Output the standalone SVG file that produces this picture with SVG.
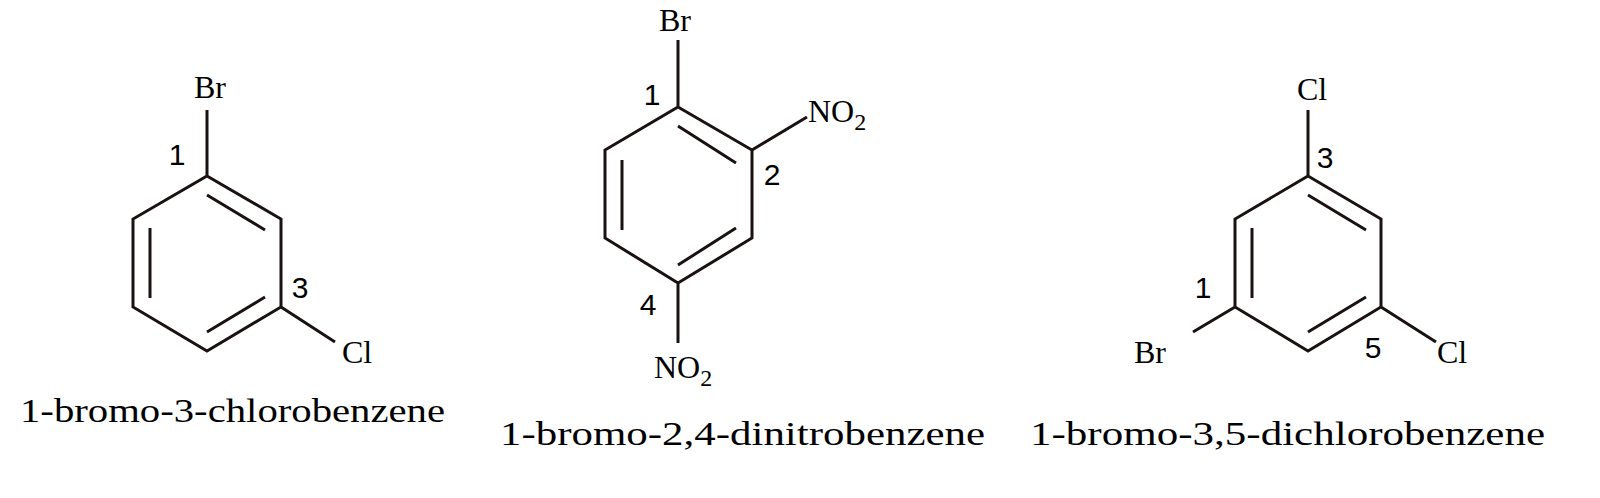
<svg xmlns="http://www.w3.org/2000/svg" width="1600" height="498" viewBox="0 0 1600 498">
<style>
.b{stroke:#1a1210;stroke-width:3;fill:none;stroke-linecap:butt;stroke-linejoin:miter}
.a{font-family:"Liberation Serif",serif;font-size:32px;text-anchor:middle}
.s{text-anchor:start}
.n{font-family:"Liberation Sans",sans-serif;font-size:30px;text-anchor:middle}
.c{font-family:"Liberation Serif",serif;font-size:34px}
</style>
<rect width="1600" height="498" fill="#fff"/>
<g id="m1">
<path class="b" d="M207,176 L281,219 L281,307 L207,351 L133,307 L133,219 Z M207,176 L207,110 M281,307 L335,342 M207,195 L265,230 M150,228 L150,298 M207,332 L265,297"/>
<text class="a" x="210" y="98">Br</text>
<text class="a" x="357" y="363">Cl</text>
<text class="n" x="177" y="165">1</text>
<text class="n" x="300" y="298">3</text>
<text class="c" x="20" y="422" textLength="425" lengthAdjust="spacingAndGlyphs">1-bromo-3-chlorobenzene</text>
</g>
<g id="m2">
<path class="b" d="M678,107 L752,150 L752,238 L678,283 L605,238 L605,150 Z M678,107 L678,40 M752,150 L807,117 M678,283 L678,343 M678,126 L736,163 M622,160 L622,230 M678,265 L736,228"/>
<text class="a" x="675" y="31">Br</text>
<text class="a s" x="808" y="122">NO<tspan dy="8" font-size="24">2</tspan></text>
<text class="a s" x="654" y="378">NO<tspan dy="8" font-size="24">2</tspan></text>
<text class="n" x="652" y="105">1</text>
<text class="n" x="772" y="185">2</text>
<text class="n" x="648" y="315">4</text>
<text class="c" x="500" y="445" textLength="485" lengthAdjust="spacingAndGlyphs">1-bromo-2,4-dinitrobenzene</text>
</g>
<g id="m3">
<path class="b" d="M1308,176 L1381,219 L1381,307 L1308,351 L1235,307 L1235,219 Z M1308,176 L1308,110 M1235,307 L1193,332 M1381,307 L1436,342 M1308,195 L1366,230 M1252,228 L1252,298 M1308,332 L1366,297"/>
<text class="a" x="1312" y="100">Cl</text>
<text class="a" x="1150" y="363">Br</text>
<text class="a" x="1452" y="363">Cl</text>
<text class="n" x="1325" y="168">3</text>
<text class="n" x="1203" y="298">1</text>
<text class="n" x="1373" y="358">5</text>
<text class="c" x="1030" y="445" textLength="515" lengthAdjust="spacingAndGlyphs">1-bromo-3,5-dichlorobenzene</text>
</g>
</svg>
